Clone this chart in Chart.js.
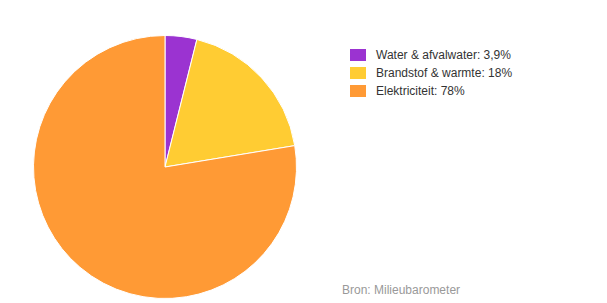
<!DOCTYPE html>
<html>
<head>
<meta charset="utf-8">
<script src="https://cdn.jsdelivr.net/npm/chart.js@4/dist/chart.umd.min.js"></script>
<style>
  body { margin: 0; background: #fff; font-family: "Liberation Sans", Arial, sans-serif; }
  #wrap { position: relative; width: 607px; height: 303px; }
  #chartBox { position: absolute; left: 0; top: 0; width: 330px; height: 303px; }
  #legend { position: absolute; left: 350px; top: 46px; font-size: 12px; color: #333; }
  .row { height: 18px; display: flex; align-items: center; }
  .sw { width: 16px; height: 12px; margin-right: 10px; }
  #source { position: absolute; left: 342px; top: 283px; font-size: 12px; color: #999; }
</style>
</head>
<body>
<div id="wrap">
  <div id="chartBox"><canvas id="myChart"></canvas></div>
  <div id="legend"></div>
  <div id="source">Bron: Milieubarometer</div>
</div>
<script>
const labels = ['Water & afvalwater', 'Brandstof & warmte', 'Elektriciteit'];
const values = [3.9, 18.5, 77.6];
const valueLabels = ['3,9%', '18%', '78%'];
const colors = ['#9b33d1', '#ffcc33', '#ff9a35'];

const legend = document.getElementById('legend');
labels.forEach((l, i) => {
    legend.innerHTML += `<div class="row"><div class="sw" style="background:${colors[i]}"></div>${l}: ${valueLabels[i]}</div>`;
});

const ctx = document.getElementById('myChart');
new Chart(ctx, {
    type: 'pie',
    data: {
        labels: labels,
        datasets: [{
            data: values,
            backgroundColor: colors,
            borderColor: '#fff',
            borderWidth: 1
        }]
    },
    options: {
        responsive: true,
        maintainAspectRatio: false,
        animation: false,
        layout: { padding: { top: 35, bottom: 4, left: 33, right: 33 } },
        plugins: {
            legend: { display: false },
            tooltip: { enabled: false }
        }
    }
});
</script>
</body>
</html>
